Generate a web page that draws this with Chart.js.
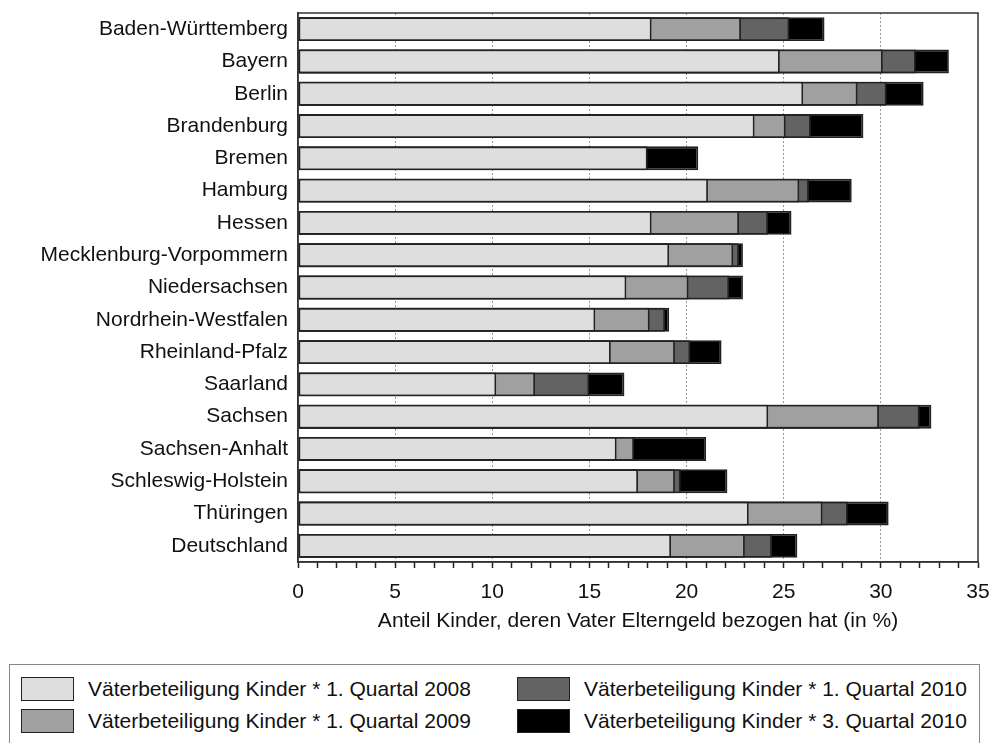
<!DOCTYPE html>
<html>
<head>
<meta charset="utf-8">
<script src="https://cdn.jsdelivr.net/npm/chart.js@4/dist/chart.umd.min.js"></script>
<style>
  html, body { margin: 0; padding: 0; background: #fff; overflow: hidden; }
  body { width: 991px; height: 743px; position: relative; font-family: "Liberation Sans", Arial, sans-serif; }
  #chartWrap { position: absolute; left: 0; top: 0; width: 991px; height: 655px; }
  #legend {
    position: absolute; left: 9px; top: 664px; width: 971px; height: 100px;
    border: 1px solid #888; box-sizing: border-box;
  }
  .item { position: absolute; height: 24px; line-height: 24px; font-size: 21px; color: #111; white-space: nowrap; }
  .item span.sw { position: absolute; left: 0; top: 0; width: 53px; height: 24px; box-sizing: border-box; border: 1.5px solid #222; }
  .item span.tx { position: absolute; left: 67px; top: 0; }
</style>
</head>
<body>
<div id="chartWrap"><canvas id="c"></canvas></div>
<div id="legend"></div>
<script>
// Bundesländer, top to bottom
const states = [
  "Baden-Württemberg", "Bayern", "Berlin", "Brandenburg", "Bremen", "Hamburg",
  "Hessen", "Mecklenburg-Vorpommern", "Niedersachsen", "Nordrhein-Westfalen",
  "Rheinland-Pfalz", "Saarland", "Sachsen", "Sachsen-Anhalt",
  "Schleswig-Holstein", "Thüringen", "Deutschland"
];

// share of children whose father received Elterngeld (in %)
const q1_2008 = [18.2, 24.8, 26.0, 23.5, 18.0, 21.1, 18.2, 19.1, 16.9, 15.3, 16.1, 10.2, 24.2, 16.4, 17.5, 23.2, 19.2];
const q1_2009 = [22.8, 30.1, 28.8, 25.1, null, 25.8, 22.7, 22.4, 20.1, 18.1, 19.4, 12.2, 29.9, 17.3, 19.4, 27.0, 23.0];
const q1_2010 = [25.3, 31.8, 30.3, 26.4, null, 26.3, 24.2, 22.7, 22.2, 18.9, 20.2, 15.0, 32.0, null, 19.7, 28.3, 24.4];
const q3_2010 = [27.1, 33.5, 32.2, 29.1, 20.6, 28.5, 25.4, 22.9, 22.9, 19.1, 21.8, 16.8, 32.6, 21.0, 22.1, 30.4, 25.7];

const seriesNames = [
  "Väterbeteiligung Kinder * 1. Quartal 2008",
  "Väterbeteiligung Kinder * 1. Quartal 2009",
  "Väterbeteiligung Kinder * 1. Quartal 2010",
  "Väterbeteiligung Kinder * 3. Quartal 2010"
];
const seriesColors = ["#dedede", "#a0a0a0", "#636363", "#000000"];
const seriesData = [q1_2008, q1_2009, q1_2010, q3_2010];

const xTitle = "Anteil Kinder, deren Vater Elterngeld bezogen hat (in %)";

Chart.defaults.font.family = "'Liberation Sans', Arial, sans-serif";
Chart.defaults.font.size = 21;
Chart.defaults.color = "#111";

// frame around the plot area
const frame = {
  id: "frame",
  afterDatasetsDraw(chart) {
    const a = chart.chartArea;
    const ctx = chart.ctx;
    ctx.save();
    ctx.strokeStyle = "#333";
    ctx.lineWidth = 1.5;
    ctx.strokeRect(a.left, a.top, a.right - a.left, a.bottom - a.top);
    ctx.restore();
  }
};

// overlapping bars: the first dataset is drawn on top
const datasets = seriesData.map((d, i) => ({
  label: seriesNames[i],
  data: d,
  backgroundColor: seriesColors[i],
  borderColor: "#222",
  borderWidth: 1.8,
  borderSkipped: false,
  grouped: false,
  categoryPercentage: 0.74,
  barPercentage: 1
}));

new Chart(document.getElementById("c"), {
  type: "bar",
  data: { labels: states, datasets },
  options: {
    indexAxis: "y",
    responsive: true,
    maintainAspectRatio: false,
    animation: false,
    layout: { padding: { top: 13, right: 13, left: 0, bottom: 18 } },
    plugins: { legend: { display: false }, tooltip: { enabled: false } },
    scales: {
      y: {
        grid: { display: false, drawTicks: false },
        border: { display: true, color: "#333", width: 1.5 },
        ticks: { padding: 10, color: "#111", font: { size: 21 } },
        afterFit(scale) {
          scale.width = 298;
          scale.paddingTop = 0;
          scale.paddingBottom = 0;
        }
      },
      x: {
        min: 0,
        max: 35,
        grid: {
          color: (ctx) => {
            const v = ctx.tick ? ctx.tick.value : 0;
            return v % 5 === 0 && v > 0 && v < 35 ? "#999" : "rgba(0,0,0,0)";
          },
          lineWidth: 1,
          tickColor: "#222",
          tickLength: 6,
          tickWidth: 1.5,
          tickBorderDash: []
        },
        border: { display: true, color: "#333", width: 1.5, dash: [2, 2] },
        ticks: {
          stepSize: 1,
          autoSkip: false,
          maxRotation: 0,
          padding: 12,
          color: "#111",
          font: { size: 21 },
          callback: (v) => (v % 5 === 0 ? String(v) : "")
        },
        title: {
          display: true,
          text: xTitle,
          color: "#111",
          font: { size: 21 },
          padding: { top: 2, bottom: 3 }
        },
        afterFit(scale) {
          scale.height = 75;
          scale.paddingLeft = 0;
          scale.paddingRight = 0;
        }
      }
    }
  },
  plugins: [frame]
});

// legend in two columns inside a box
const legend = document.getElementById("legend");
const spots = [[11, 12], [11, 44], [507, 12], [507, 44]];
seriesNames.forEach((name, i) => {
  const it = document.createElement("div");
  it.className = "item";
  it.style.left = spots[i][0] + "px";
  it.style.top = spots[i][1] + "px";
  const sw = document.createElement("span");
  sw.className = "sw";
  sw.style.background = seriesColors[i];
  const tx = document.createElement("span");
  tx.className = "tx";
  tx.textContent = name;
  it.appendChild(sw);
  it.appendChild(tx);
  legend.appendChild(it);
});
</script>
</body>
</html>
